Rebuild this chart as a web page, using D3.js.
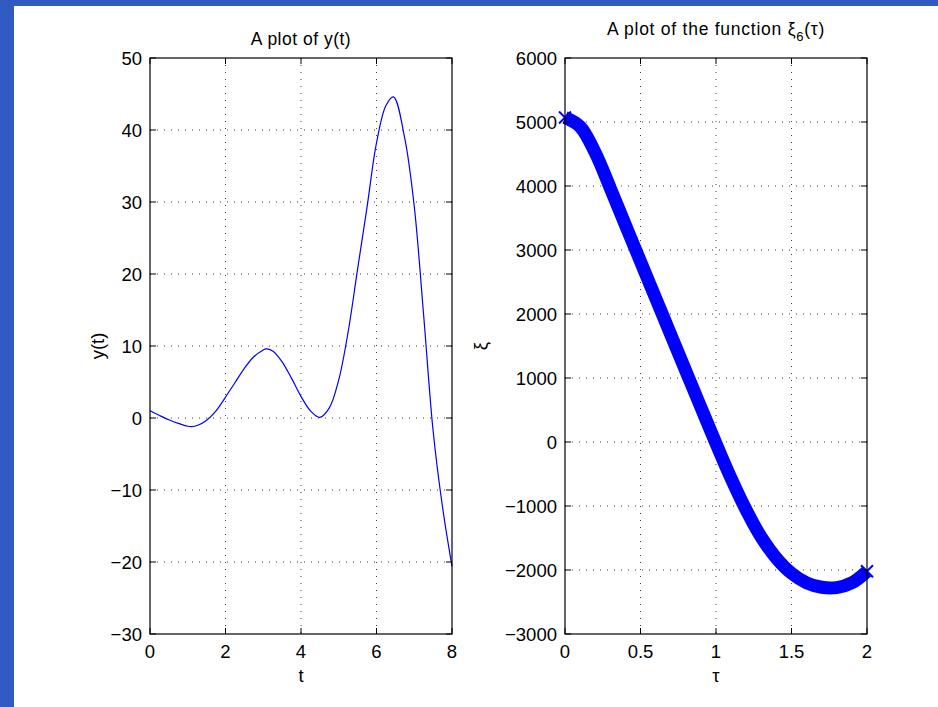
<!DOCTYPE html>
<html>
<head>
<meta charset="utf-8">
<script src="https://cdn.jsdelivr.net/npm/d3@7"></script>
<style>
  body { margin: 0; background: #fff; }
  text { font-family: "Liberation Sans", Arial, Helvetica, sans-serif; fill: #000; }
</style>
</head>
<body>
<div id="chart"></div>
<script>
// left panel: y(t)
var tValues = [0, 0.25, 0.5, 0.75, 1, 1.1, 1.25, 1.5, 1.75, 2, 2.25, 2.5, 2.75, 3, 3.07, 3.25, 3.5, 3.75,
               4, 4.25, 4.5, 4.75, 5, 5.25, 5.5, 5.75, 6, 6.25, 6.45, 6.75, 7, 7.25, 7.5, 7.75, 8];
var yValues = [1.0, 0.35, -0.25, -0.75, -1.15, -1.2, -1.05, -0.3, 1.0, 2.9, 4.9, 6.9, 8.5, 9.45, 9.6, 9.3, 7.8, 5.5,
               3.0, 1.0, 0.1, 1.4, 5.3, 12.0, 20.7, 29.3, 38.2, 43.4, 44.6, 38.8, 29.4, 14.2, -1.8, -12.4, -20.6];
var tTicks = [0, 2, 4, 6, 8];
var yTicks = [-30, -20, -10, 0, 10, 20, 30, 40, 50];

// right panel: xi_6(tau)
var tauValues = [0, 0.1, 0.2, 0.3, 0.4, 0.5, 0.6, 0.7, 0.8, 0.9, 1.0,
                 1.1, 1.2, 1.3, 1.4, 1.5, 1.6, 1.7, 1.8, 1.9, 2.0];
var xiValues = [5070, 4928, 4521, 3966, 3391, 2821, 2251, 1681, 1111, 541, -24,
                -569, -1064, -1490, -1815, -2050, -2200, -2270, -2275, -2200, -2020];
var tauTicks = [0, 0.5, 1, 1.5, 2];
var xiTicks = [-3000, -2000, -1000, 0, 1000, 2000, 3000, 4000, 5000, 6000];

var width = 938, height = 707;

var svg = d3.select("#chart").append("svg")
    .attr("width", width)
    .attr("height", height);

// blue window frame
svg.append("rect").attr("width", width).attr("height", height).attr("fill", "#325ac3");
svg.append("rect").attr("x", 14).attr("y", 6).attr("width", width - 14).attr("height", height - 6).attr("fill", "#fff");

function fmt(d) {
    return String(d).replace("-", "\u2212");
}

function drawPanel(p) {
    var x = d3.scaleLinear().domain(p.xDomain).range([p.left, p.right]);
    var y = d3.scaleLinear().domain(p.yDomain).range([p.bottom, p.top]);
    var g = svg.append("g");

    // grid
    g.selectAll(".vgrid").data(p.xTicks.slice(1, -1)).enter().append("line")
        .attr("x1", d => x(d)).attr("x2", d => x(d))
        .attr("y1", p.top).attr("y2", p.bottom)
        .attr("stroke", "#000").attr("stroke-width", 1)
        .attr("stroke-dasharray", "1,6").attr("opacity", 0.75);
    g.selectAll(".hgrid").data(p.yTicks.slice(1, -1)).enter().append("line")
        .attr("y1", d => y(d)).attr("y2", d => y(d))
        .attr("x1", p.left).attr("x2", p.right)
        .attr("stroke", "#000").attr("stroke-width", 1)
        .attr("stroke-dasharray", "1,6").attr("opacity", 0.75);

    // data
    var line = d3.line()
        .x((d, i) => x(p.xs[i]))
        .y(d => y(d))
        .curve(d3.curveCatmullRom.alpha(0.5));
    g.append("path")
        .datum(p.ys)
        .attr("d", line)
        .attr("fill", "none")
        .attr("stroke", "#0000ff")
        .attr("stroke-width", p.lineWidth);

    if (p.markers) {
        var ends = [0, p.xs.length - 1];
        ends.forEach(function (i) {
            var cx = x(p.xs[i]), cy = y(p.ys[i]), s = 6;
            g.append("path")
                .attr("d", "M" + (cx - s) + "," + (cy - s) + "L" + (cx + s) + "," + (cy + s) +
                           "M" + (cx - s) + "," + (cy + s) + "L" + (cx + s) + "," + (cy - s))
                .attr("stroke", "#0000ff").attr("stroke-width", 2);
        });
    }

    // ticks (inward, all four sides)
    var tl = 6;
    p.xTicks.forEach(function (d) {
        g.append("line").attr("x1", x(d)).attr("x2", x(d)).attr("y1", p.bottom).attr("y2", p.bottom - tl).attr("stroke", "#000");
        g.append("line").attr("x1", x(d)).attr("x2", x(d)).attr("y1", p.top).attr("y2", p.top + tl).attr("stroke", "#000");
    });
    p.yTicks.forEach(function (d) {
        g.append("line").attr("y1", y(d)).attr("y2", y(d)).attr("x1", p.left).attr("x2", p.left + tl).attr("stroke", "#000");
        g.append("line").attr("y1", y(d)).attr("y2", y(d)).attr("x1", p.right).attr("x2", p.right - tl).attr("stroke", "#000");
    });

    // box
    g.append("rect")
        .attr("x", p.left).attr("y", p.top)
        .attr("width", p.right - p.left).attr("height", p.bottom - p.top)
        .attr("fill", "none").attr("stroke", "#000").attr("stroke-width", 1.2);

    // tick labels
    g.selectAll(".xl").data(p.xTicks).enter().append("text")
        .attr("x", d => x(d)).attr("y", p.bottom + 24)
        .attr("text-anchor", "middle").attr("font-size", 18.5)
        .text(fmt);
    g.selectAll(".yl").data(p.yTicks).enter().append("text")
        .attr("x", p.left - 8).attr("y", d => y(d)).attr("dy", "0.36em")
        .attr("text-anchor", "end").attr("font-size", 18.5)
        .text(fmt);

    // axis labels
    g.append("text")
        .attr("x", (p.left + p.right) / 2).attr("y", p.bottom + 48)
        .attr("text-anchor", "middle").attr("font-size", 18.5)
        .text(p.xLabel);
    g.append("text")
        .attr("transform", "translate(" + p.yLabelX + "," + ((p.top + p.bottom) / 2) + ") rotate(-90)")
        .attr("text-anchor", "middle").attr("font-size", 18.5)
        .text(p.yLabel);

    // title
    var title = g.append("text")
        .attr("x", (p.left + p.right) / 2).attr("y", p.titleY)
        .attr("text-anchor", "middle").attr("font-size", 17.5)
        .attr("letter-spacing", p.titleSpacing);
    p.title(title);
}

drawPanel({
    left: 150, right: 452, top: 58, bottom: 634,
    xDomain: [0, 8], yDomain: [-30, 50],
    xTicks: tTicks, yTicks: yTicks,
    xs: tValues, ys: yValues,
    lineWidth: 1.2, markers: false,
    xLabel: "t", yLabel: "y(t)", yLabelX: 104,
    titleY: 45, titleSpacing: 0.5,
    title: function (t) { t.text("A plot of y(t)"); }
});

drawPanel({
    left: 565, right: 867, top: 58, bottom: 634,
    xDomain: [0, 2], yDomain: [-3000, 6000],
    xTicks: tauTicks, yTicks: xiTicks,
    xs: tauValues, ys: xiValues,
    lineWidth: 13, markers: true,
    xLabel: "\u03c4", yLabel: "\u03be", yLabelX: 487,
    titleY: 35, titleSpacing: 0.75,
    title: function (t) {
        t.append("tspan").text("A plot of the function \u03be");
        t.append("tspan").attr("dy", 6).attr("font-size", 13).text("6");
        t.append("tspan").attr("dy", -6).text("(\u03c4)");
    }
});
</script>
</body>
</html>
